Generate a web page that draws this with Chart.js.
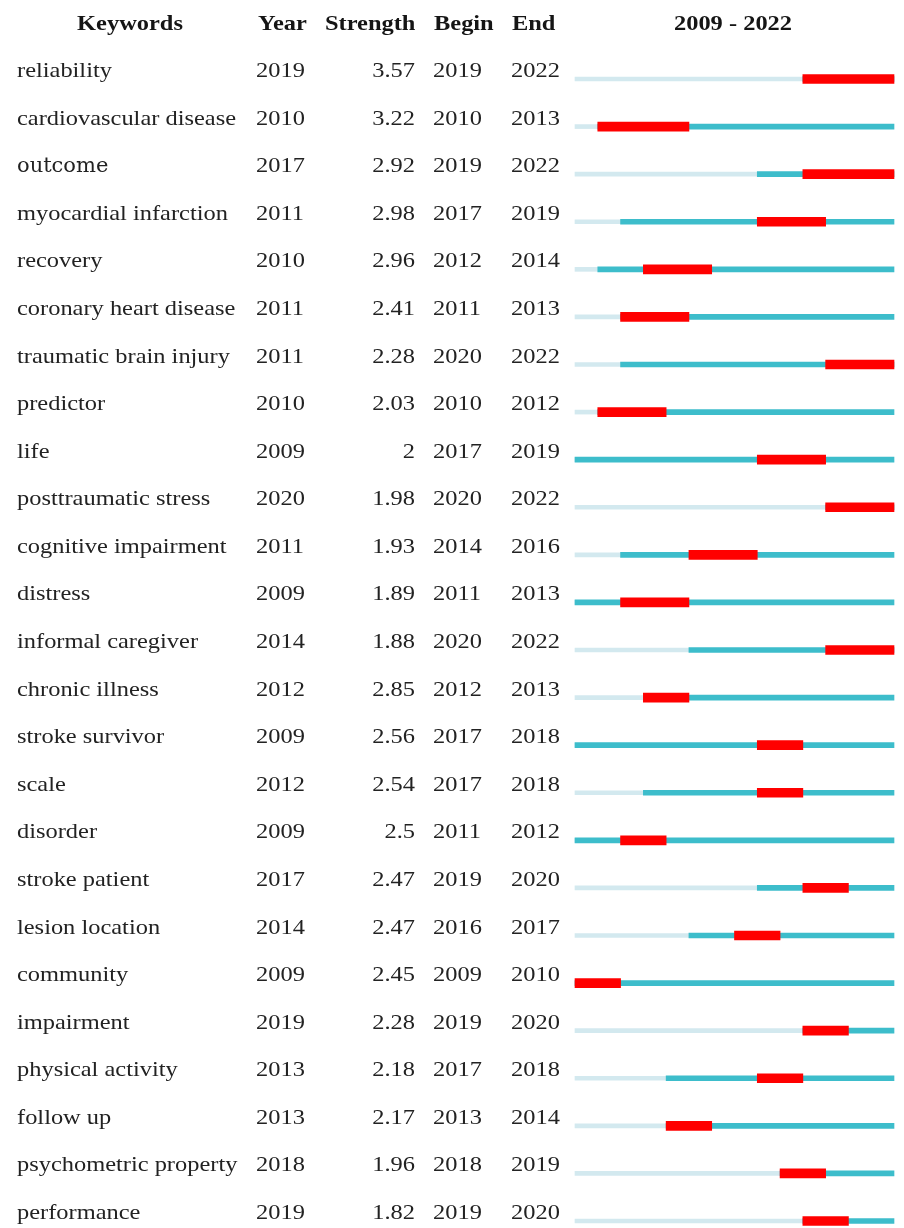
<!DOCTYPE html>
<html>
<head>
<meta charset="utf-8">
<script src="https://cdn.jsdelivr.net/npm/chart.js@4.4.1/dist/chart.umd.min.js"></script>
<style>
html,body{margin:0;padding:0;background:#fff;}
canvas{display:block;}
</style>
</head>
<body>
<canvas id="c" width="904" height="1228"></canvas>
<script>
const keywords = ["reliability","cardiovascular disease","outcome","myocardial infarction","recovery","coronary heart disease","traumatic brain injury","predictor","life","posttraumatic stress","cognitive impairment","distress","informal caregiver","chronic illness","stroke survivor","scale","disorder","stroke patient","lesion location","community","impairment","physical activity","follow up","psychometric property","performance"];
const years = [2019,2010,2017,2011,2010,2011,2011,2010,2009,2020,2011,2009,2014,2012,2009,2012,2009,2017,2014,2009,2019,2013,2013,2018,2019];
const strengths = ["3.57","3.22","2.92","2.98","2.96","2.41","2.28","2.03","2","1.98","1.93","1.89","1.88","2.85","2.56","2.54","2.5","2.47","2.47","2.45","2.28","2.18","2.17","1.96","1.82"];
const begins = [2019,2010,2019,2017,2012,2011,2020,2010,2017,2020,2014,2011,2020,2012,2017,2017,2011,2019,2016,2009,2019,2017,2013,2018,2019];
const ends = [2022,2013,2022,2019,2014,2013,2022,2012,2019,2022,2016,2013,2022,2013,2018,2018,2012,2020,2017,2010,2020,2018,2014,2019,2020];
const headers = ["Keywords","Year","Strength","Begin","End"];
const firstYear = 2009, lastYear = 2022;

const burstData = keywords.map((k,i)=>[begins[i], ends[i]+1]);
const activeData = keywords.map((k,i)=>[years[i], lastYear+1]);
const inactiveData = keywords.map((k,i)=>[firstYear, years[i]]);

const SX = 1.11;
function txt(ctx, s, x, y, align, sx){
  ctx.save();
  ctx.translate(x, y);
  ctx.scale(sx || SX, 1);
  ctx.textAlign = align || 'left';
  ctx.fillText(s, 0, 0);
  ctx.restore();
}

const textPlugin = {
  id: 'tableText',
  afterDraw(chart){
    const ctx = chart.ctx;
    const ys = chart.scales.y;
    ctx.save();
    ctx.fillStyle = '#151515';
    ctx.textBaseline = 'alphabetic';
    ctx.font = 'bold 22px "Liberation Serif", "Times New Roman", serif';
    txt(ctx, headers[0], 130, 30, 'center');
    txt(ctx, headers[1], 258, 30, 'left');
    txt(ctx, headers[2], 325, 30, 'left');
    txt(ctx, headers[3], 434, 30, 'left');
    txt(ctx, headers[4], 512, 30, 'left');
    txt(ctx, firstYear + ' - ' + lastYear, 733, 30, 'center');
    ctx.fillStyle = '#222222';
    keywords.forEach((k,i)=>{
      const y = ys.getPixelForValue(i) - 2;
      if (k === 'outcome') {
        ctx.font = '21px "DejaVu Serif", serif';
        txt(ctx, k, 17, y, 'left', 1.0);
      } else {
        ctx.font = '22px "Liberation Serif", "Times New Roman", serif';
        txt(ctx, k, 17, y, 'left');
      }
      ctx.font = '22px "Liberation Serif", "Times New Roman", serif';
      txt(ctx, String(years[i]), 256, y, 'left');
      txt(ctx, strengths[i], 415, y, 'right');
      txt(ctx, String(begins[i]), 433, y, 'left');
      txt(ctx, String(ends[i]), 511, y, 'left');
    });
    ctx.restore();
  }
};

new Chart(document.getElementById('c'), {
  type: 'bar',
  data: {
    labels: keywords,
    datasets: [
      { label: 'burst', data: burstData, backgroundColor: '#FF0000', barThickness: 9, grouped: false, borderWidth: 0, borderSkipped: false, clip: false },
      { label: 'active', data: activeData, backgroundColor: '#3DBDCB', barThickness: 5, grouped: false, borderWidth: 0, borderSkipped: false, clip: false },
      { label: 'inactive', data: inactiveData, backgroundColor: '#D3E9EF', barThickness: 4, grouped: false, borderWidth: 0, borderSkipped: false, clip: false }
    ]
  },
  options: {
    indexAxis: 'y',
    responsive: false,
    animation: false,
    layout: { padding: { left: 575, right: 10, top: 79, bottom: 7 } },
    scales: {
      x: { type: 'linear', min: firstYear, max: lastYear + 1, display: false },
      y: { type: 'category', offset: false, display: false }
    },
    plugins: { legend: { display: false }, tooltip: { enabled: false } }
  },
  plugins: [textPlugin]
});
</script>
</body>
</html>
